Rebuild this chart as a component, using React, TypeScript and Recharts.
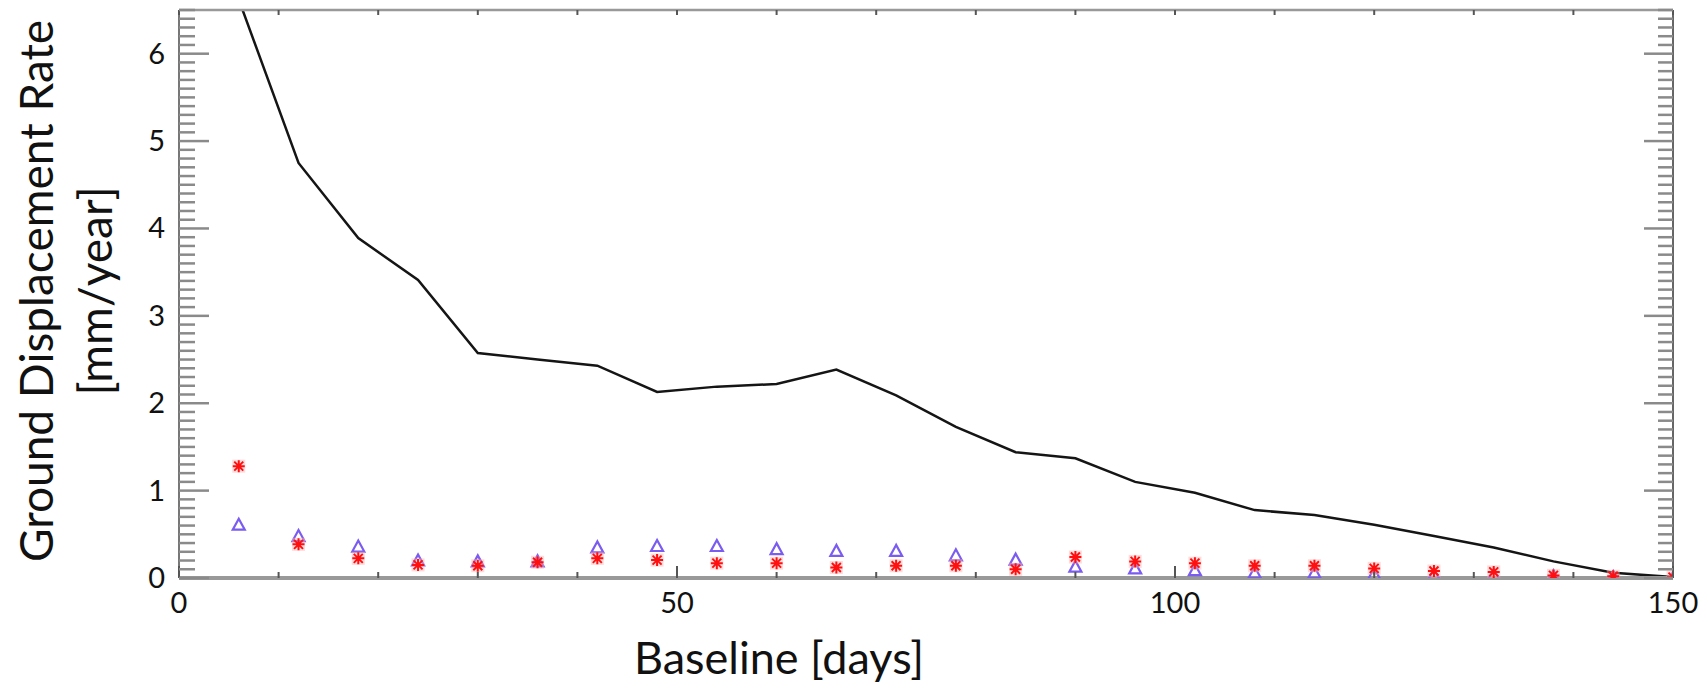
import React from 'react';
import { ComposedChart, Line, Scatter, XAxis, YAxis, Label } from 'recharts';

// baseline in days
const days = [6, 12, 18, 24, 30, 36, 42, 48, 54, 60, 66, 72, 78, 84, 90, 96, 102, 108, 114, 120, 126, 132, 138, 144, 150];
// black line
const rateLine = [6.62, 4.75, 3.89, 3.41, 2.575, 2.5, 2.43, 2.13, 2.19, 2.22, 2.385, 2.09, 1.73, 1.44, 1.37, 1.1, 0.975, 0.777, 0.72, 0.61, 0.48, 0.35, 0.19, 0.06, 0.01];
// red asterisks
const rateRed = [1.28, 0.385, 0.225, 0.15, 0.14, 0.18, 0.225, 0.205, 0.17, 0.17, 0.12, 0.14, 0.14, 0.1, 0.24, 0.19, 0.17, 0.14, 0.14, 0.11, 0.08, 0.07, 0.03, 0.02, 0.01];
// blue triangles
const rateBlue = [0.61, 0.48, 0.36, 0.2, 0.19, 0.19, 0.35, 0.366, 0.366, 0.33, 0.31, 0.31, 0.26, 0.21, 0.13, 0.11, 0.09, 0.06, 0.06, 0.045, 0.035, 0.035, 0.02, 0.01, 0.0];

const data = days.map((d, i) => ({ day: d, line: rateLine[i], red: rateRed[i], blue: rateBlue[i] }));

const xTicks = Array.from({ length: 16 }, (_, i) => i * 10);
const yTicks = Array.from({ length: 66 }, (_, i) => i / 10);

const FONT = 'Lato, "Noto Sans", sans-serif';
const AXIS = '#8a8a8a';

const isMajorY = (v: number) => Math.abs(v - Math.round(v)) < 1e-6;

const LeftTick = (props: any) => {
  const { x, y, payload } = props;
  const v = payload.value;
  const major = isMajorY(v);
  return (
    <g>
      <line x1={x} y1={y} x2={x + (major ? 30 : 16)} y2={y} stroke={AXIS} strokeWidth={2.5} />
      {major && (
        <text x={x - 14} y={y} dy={10} textAnchor="end" fontSize={29} fontFamily={FONT} fill="#111">
          {Math.round(v)}
        </text>
      )}
    </g>
  );
};

const RightTick = (props: any) => {
  const { x, y, payload } = props;
  const major = isMajorY(payload.value);
  return <line x1={x} y1={y} x2={x - (major ? 29 : 15)} y2={y} stroke={AXIS} strokeWidth={2.5} />;
};

const BottomTick = (props: any) => {
  const { x, y, payload } = props;
  const v = payload.value;
  const major = v % 50 === 0;
  return (
    <g>
      <line x1={x} y1={y} x2={x} y2={y - (major ? 12 : 6)} stroke="#555" strokeWidth={2} />
      {major && (
        <text x={x} y={y + 35} textAnchor="middle" fontSize={29} fontFamily={FONT} fill="#111">
          {v}
        </text>
      )}
    </g>
  );
};

const TopTick = (props: any) => {
  const { x, y } = props;
  return <line x1={x} y1={y} x2={x} y2={y + 5} stroke="#555" strokeWidth={2} />;
};

const Star = ({ cx, cy }: any) => (
  <g>
    <rect x={cx - 6.5} y={cy - 6.5} width={13} height={13} fill="#ffb0b0" opacity={0.45} />
    <path
      d={`M${cx - 6},${cy}H${cx + 6}M${cx},${cy - 6}V${cy + 6}M${cx - 4.5},${cy - 4.5}L${cx + 4.5},${cy + 4.5}M${cx - 4.5},${cy + 4.5}L${cx + 4.5},${cy - 4.5}`}
      stroke="#ff1010"
      strokeWidth={2}
    />
  </g>
);

const Triangle = ({ cx, cy }: any) => (
  <polygon
    points={`${cx},${cy - 6} ${cx - 6},${cy + 5} ${cx + 6},${cy + 5}`}
    fill="none"
    stroke="#7a5cf0"
    strokeWidth={2.2}
  />
);

const YTitle = (props: any) => {
  const cy = props.viewBox.y + props.viewBox.height / 2 - 3;
  return (
    <g fontFamily={FONT} fontSize={46} fill="#111">
      <text x={35} y={cy} transform={`rotate(-90 35 ${cy})`} textAnchor="middle" dominantBaseline="central">
        Ground Displacement Rate
      </text>
      <text x={94} y={cy} transform={`rotate(-90 94 ${cy})`} textAnchor="middle" dominantBaseline="central">
        [mm/year]
      </text>
    </g>
  );
};

const XTitle = (props: any) => {
  const { x, y, width } = props.viewBox;
  return (
    <text x={x + width * 0.4016} y={y + 79} textAnchor="middle" dominantBaseline="central" fontFamily={FONT} fontSize={45} fill="#111">
      Baseline [days]
    </text>
  );
};

export default function App() {
  return (
    <div style={{ position: 'absolute', left: 0, top: 0, background: '#fff' }}>
      <ComposedChart width={1703} height={684} data={data} margin={{ top: 0, right: 0, bottom: 0, left: 0 }}>
        <XAxis
          xAxisId="b"
          dataKey="day"
          type="number"
          domain={[0, 150]}
          ticks={xTicks}
          interval={0}
          height={106}
          tickSize={0}
          tickMargin={0}
          tickLine={false}
          tick={<BottomTick />}
          axisLine={{ stroke: '#999', strokeWidth: 4 }}
          allowDataOverflow
        >
          <Label content={<XTitle />} />
        </XAxis>
        <XAxis
          xAxisId="t"
          orientation="top"
          dataKey="day"
          type="number"
          domain={[0, 150]}
          ticks={xTicks}
          interval={0}
          height={10}
          tickSize={0}
          tickMargin={0}
          tickLine={false}
          tick={<TopTick />}
          axisLine={{ stroke: '#999', strokeWidth: 2.5 }}
          allowDataOverflow
        />
        <YAxis
          yAxisId="l"
          type="number"
          domain={[0, 6.5]}
          ticks={yTicks}
          interval={0}
          width={179}
          tickSize={0}
          tickMargin={0}
          tickLine={false}
          tick={<LeftTick />}
          axisLine={{ stroke: '#777', strokeWidth: 2 }}
          allowDataOverflow
        >
          <Label content={<YTitle />} />
        </YAxis>
        <YAxis
          yAxisId="r"
          orientation="right"
          type="number"
          domain={[0, 6.5]}
          ticks={yTicks}
          interval={0}
          width={30}
          tickSize={0}
          tickMargin={0}
          tickLine={false}
          tick={<RightTick />}
          axisLine={{ stroke: '#666', strokeWidth: 2 }}
          allowDataOverflow
        />
        <Line
          xAxisId="b"
          yAxisId="l"
          type="linear"
          dataKey="line"
          stroke="#151515"
          strokeWidth={2.5}
          dot={false}
          isAnimationActive={false}
        />
        <Scatter xAxisId="b" yAxisId="l" dataKey="blue" shape={<Triangle />} isAnimationActive={false} />
        <Scatter xAxisId="b" yAxisId="l" dataKey="red" shape={<Star />} isAnimationActive={false} />
      </ComposedChart>
    </div>
  );
}
